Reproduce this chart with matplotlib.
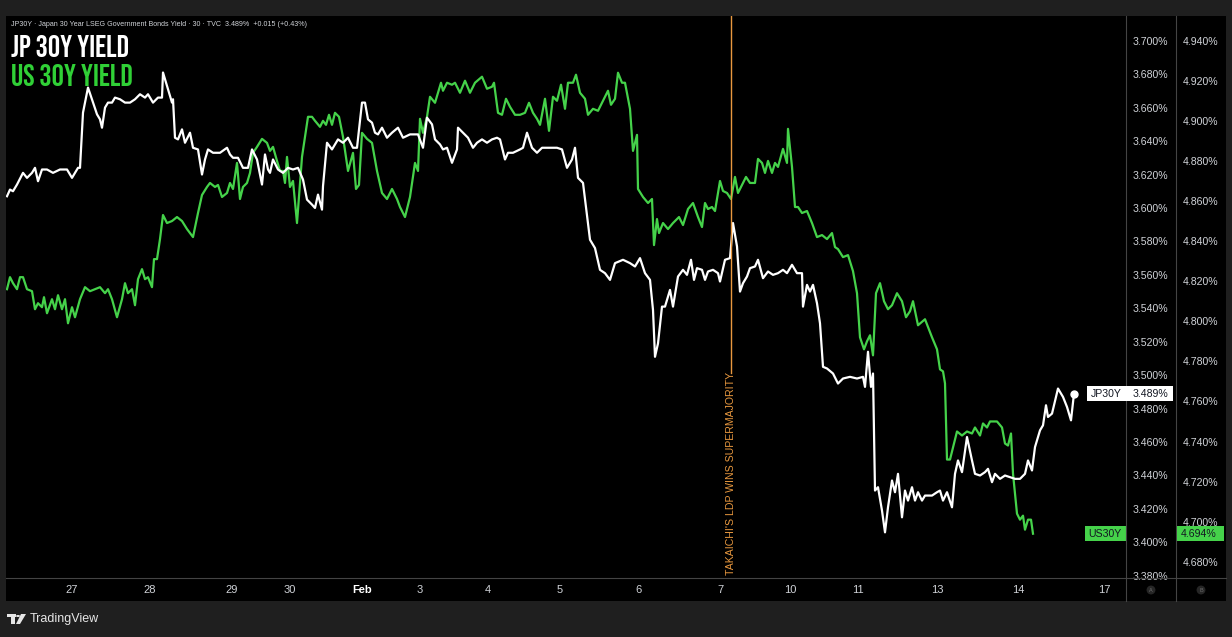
import matplotlib
matplotlib.use("Agg")
from matplotlib import pyplot as plt
from matplotlib import transforms as mtransforms
from matplotlib.lines import Line2D
from matplotlib.patches import Rectangle, Polygon, Circle

plt.rcParams['font.family'] = ['Liberation Sans', 'DejaVu Sans']

# ---------------- data (30 min bars, compressed session axis) ----------------
date_pos = [72, 150, 232, 290, 362, 420, 488, 560, 638, 720, 790, 858, 937, 1018, 1104]
date_labels = ['27', '28', '29', '30', 'Feb', '3', '4', '5', '6', '7', '10', '11', '13', '14', '17']

jp_ticks = [3.38, 3.40, 3.42, 3.44, 3.46, 3.48, 3.50, 3.52, 3.54, 3.56, 3.58,
            3.60, 3.62, 3.64, 3.66, 3.68, 3.70]
us_ticks = [4.68, 4.70, 4.72, 4.74, 4.76, 4.78, 4.80, 4.82, 4.84, 4.86, 4.88,
            4.90, 4.92, 4.94]

jp_pos = [7, 10, 13, 17, 23, 27, 32, 35, 38, 42,
          47, 53, 60, 67, 72, 78, 80, 83, 88, 93,
          97, 100, 102, 105, 108, 112, 115, 120, 125, 130,
          135, 140, 145, 148, 153, 158, 162, 163, 168, 172,
          173, 175, 178, 182, 185, 190, 193, 198, 202, 205,
          208, 213, 220, 227, 230, 233, 238, 243, 248, 252,
          257, 262, 265, 268, 270, 273, 278, 283, 288, 293,
          298, 303, 307, 312, 315, 318, 322, 323, 327, 332,
          338, 343, 348, 353, 357, 362, 365, 368, 372, 375,
          378, 382, 387, 392, 398, 403, 410, 418, 423, 427,
          432, 435, 440, 443, 447, 452, 457, 458, 463, 468,
          473, 477, 482, 487, 492, 497, 500, 505, 508, 513,
          520, 523, 527, 532, 537, 542, 547, 552, 557, 562,
          567, 572, 575, 578, 583, 590, 595, 600, 605, 610,
          615, 623, 630, 635, 640, 645, 650, 653, 655, 658,
          662, 665, 670, 673, 678, 683, 687, 691, 694, 697,
          702, 705, 708, 713, 718, 720, 725, 730, 733, 737,
          740, 743, 747, 750, 755, 758, 763, 768, 773, 778,
          783, 787, 792, 797, 802, 803, 807, 810, 813, 817,
          820, 823, 827, 833, 838, 843, 850, 857, 863, 865,
          868, 871, 873, 875, 878, 882, 885, 888, 892, 895,
          898, 902, 905, 908, 912, 915, 918, 922, 925, 932,
          937, 940, 943, 947, 952, 955, 958, 962, 967, 972,
          975, 980, 985, 988, 992, 995, 1000, 1005, 1010, 1015,
          1020, 1025, 1028, 1032, 1035, 1040, 1043, 1046, 1048, 1052,
          1058, 1063, 1067, 1071, 1074]

jp_yield = [3.607, 3.611, 3.610, 3.614, 3.621, 3.618, 3.621, 3.624, 3.616, 3.623,
            3.623, 3.621, 3.623, 3.623, 3.618, 3.624, 3.624, 3.657, 3.672, 3.663,
            3.656, 3.653, 3.648, 3.660, 3.663, 3.663, 3.666, 3.665, 3.663, 3.663,
            3.665, 3.668, 3.666, 3.668, 3.663, 3.666, 3.666, 3.681, 3.671, 3.663,
            3.665, 3.642, 3.641, 3.647, 3.639, 3.645, 3.636, 3.635, 3.620, 3.629,
            3.635, 3.633, 3.633, 3.636, 3.632, 3.630, 3.630, 3.624, 3.624, 3.635,
            3.629, 3.614, 3.632, 3.623, 3.621, 3.629, 3.623, 3.621, 3.624, 3.623,
            3.624, 3.617, 3.605, 3.602, 3.600, 3.608, 3.599, 3.613, 3.639, 3.635,
            3.641, 3.639, 3.642, 3.636, 3.636, 3.663, 3.663, 3.653, 3.651, 3.645,
            3.644, 3.648, 3.642, 3.645, 3.648, 3.642, 3.644, 3.644, 3.636, 3.654,
            3.650, 3.641, 3.638, 3.635, 3.636, 3.627, 3.635, 3.648, 3.645, 3.642,
            3.636, 3.639, 3.641, 3.639, 3.641, 3.642, 3.641, 3.629, 3.633, 3.633,
            3.635, 3.636, 3.645, 3.636, 3.633, 3.636, 3.636, 3.636, 3.636, 3.635,
            3.624, 3.629, 3.636, 3.618, 3.615, 3.581, 3.576, 3.563, 3.561, 3.557,
            3.567, 3.569, 3.567, 3.565, 3.570, 3.561, 3.557, 3.539, 3.511, 3.519,
            3.541, 3.541, 3.551, 3.541, 3.559, 3.563, 3.560, 3.569, 3.557, 3.564,
            3.563, 3.557, 3.562, 3.563, 3.561, 3.556, 3.569, 3.570, 3.591, 3.577,
            3.550, 3.555, 3.559, 3.564, 3.565, 3.569, 3.558, 3.562, 3.560, 3.561,
            3.563, 3.561, 3.566, 3.561, 3.561, 3.541, 3.554, 3.550, 3.554, 3.543,
            3.531, 3.505, 3.504, 3.501, 3.495, 3.498, 3.499, 3.498, 3.499, 3.493,
            3.514, 3.493, 3.501, 3.431, 3.433, 3.419, 3.406, 3.421, 3.437, 3.430,
            3.441, 3.415, 3.431, 3.425, 3.433, 3.425, 3.430, 3.425, 3.428, 3.428,
            3.430, 3.431, 3.425, 3.430, 3.421, 3.441, 3.449, 3.442, 3.463, 3.449,
            3.441, 3.440, 3.442, 3.444, 3.436, 3.441, 3.438, 3.440, 3.439, 3.438,
            3.438, 3.441, 3.449, 3.443, 3.457, 3.467, 3.470, 3.482, 3.475, 3.477,
            3.492, 3.487, 3.481, 3.473, 3.489]

us_pos = [7, 10, 13, 17, 20, 23, 27, 32, 35, 38,
          42, 44, 47, 52, 55, 58, 62, 65, 68, 72,
          75, 80, 85, 90, 95, 100, 105, 108, 112, 117,
          122, 125, 128, 132, 135, 138, 142, 145, 148, 152,
          154, 157, 160, 163, 167, 172, 177, 182, 187, 193,
          198, 202, 207, 210, 215, 218, 222, 227, 230, 233,
          237, 240, 243, 247, 250, 253, 257, 262, 267, 270,
          273, 277, 280, 283, 285, 287, 290, 293, 297, 302,
          305, 308, 312, 315, 320, 323, 326, 329, 332, 335,
          339, 343, 348, 353, 356, 359, 362, 367, 372, 377,
          382, 387, 392, 397, 400, 405, 410, 415, 418, 420,
          423, 427, 430, 435, 438, 441, 443, 447, 452, 455,
          460, 465, 470, 475, 482, 487, 492, 494, 498, 502,
          506, 510, 515, 520, 525, 529, 533, 537, 540, 545,
          549, 553, 557, 561, 565, 568, 573, 576, 580, 585,
          588, 593, 598, 603, 608, 611, 615, 618, 622, 625,
          630, 633, 637, 638, 643, 648, 652, 654, 657, 659,
          663, 668, 673, 679, 683, 688, 693, 698, 702, 705,
          708, 712, 715, 720, 723, 727, 731, 735, 738, 742,
          746, 750, 755, 758, 762, 765, 768, 772, 775, 778,
          783, 787, 788, 792, 795, 798, 802, 807, 812, 817,
          822, 827, 832, 835, 838, 843, 848, 853, 857, 860,
          864, 867, 870, 873, 876, 880, 884, 888, 892, 897,
          902, 906, 910, 913, 918, 925, 932, 937, 940, 943,
          945, 947, 950, 957, 962, 967, 972, 975, 980, 983,
          987, 990, 997, 1002, 1005, 1008, 1011, 1013, 1017, 1020,
          1023, 1025, 1028, 1031, 1033]

us_yield = [4.816, 4.822, 4.819, 4.816, 4.822, 4.822, 4.816, 4.815, 4.806, 4.809,
            4.807, 4.812, 4.804, 4.811, 4.806, 4.813, 4.806, 4.811, 4.799, 4.807,
            4.802, 4.811, 4.817, 4.815, 4.816, 4.817, 4.814, 4.816, 4.811, 4.802,
            4.811, 4.819, 4.814, 4.816, 4.808, 4.821, 4.826, 4.821, 4.822, 4.817,
            4.831, 4.831, 4.841, 4.853, 4.849, 4.850, 4.852, 4.850, 4.846, 4.842,
            4.854, 4.863, 4.867, 4.869, 4.867, 4.868, 4.862, 4.864, 4.869, 4.866,
            4.879, 4.861, 4.867, 4.869, 4.874, 4.884, 4.887, 4.891, 4.889, 4.885,
            4.887, 4.880, 4.875, 4.875, 4.869, 4.882, 4.867, 4.870, 4.849, 4.882,
            4.892, 4.902, 4.902, 4.900, 4.897, 4.900, 4.898, 4.903, 4.898, 4.904,
            4.902, 4.892, 4.875, 4.884, 4.866, 4.868, 4.894, 4.891, 4.889, 4.875,
            4.864, 4.861, 4.866, 4.861, 4.857, 4.852, 4.862, 4.879, 4.875, 4.901,
            4.894, 4.902, 4.912, 4.909, 4.914, 4.919, 4.915, 4.919, 4.918, 4.919,
            4.914, 4.920, 4.914, 4.919, 4.922, 4.916, 4.917, 4.919, 4.904, 4.903,
            4.911, 4.907, 4.903, 4.903, 4.904, 4.909, 4.904, 4.901, 4.898, 4.911,
            4.895, 4.912, 4.910, 4.918, 4.906, 4.919, 4.919, 4.923, 4.914, 4.911,
            4.903, 4.906, 4.905, 4.910, 4.915, 4.908, 4.911, 4.924, 4.919, 4.919,
            4.906, 4.885, 4.893, 4.866, 4.862, 4.859, 4.861, 4.838, 4.851, 4.844,
            4.849, 4.846, 4.849, 4.852, 4.848, 4.856, 4.859, 4.852, 4.847, 4.859,
            4.856, 4.857, 4.855, 4.870, 4.865, 4.864, 4.861, 4.872, 4.864, 4.868,
            4.872, 4.869, 4.869, 4.881, 4.879, 4.874, 4.880, 4.874, 4.879, 4.877,
            4.886, 4.879, 4.896, 4.877, 4.857, 4.857, 4.854, 4.855, 4.849, 4.842,
            4.843, 4.841, 4.844, 4.837, 4.836, 4.832, 4.833, 4.825, 4.814, 4.792,
            4.786, 4.790, 4.793, 4.783, 4.814, 4.819, 4.810, 4.806, 4.808, 4.814,
            4.810, 4.802, 4.805, 4.810, 4.798, 4.801, 4.792, 4.786, 4.776, 4.775,
            4.769, 4.731, 4.731, 4.745, 4.743, 4.745, 4.744, 4.747, 4.743, 4.749,
            4.747, 4.750, 4.750, 4.747, 4.739, 4.738, 4.744, 4.724, 4.704, 4.701,
            4.703, 4.696, 4.701, 4.701, 4.694]

event_pos = 731
event_text = "TAKAICHI'S LDP WINS SUPERMAJORITY"
header = "JP30Y · Japan 30 Year LSEG Government Bonds Yield · 30 · TVC  3.489%  +0.015 (+0.43%)"

# ---------------- style ----------------
W, H = 1232, 637
BG = "#1f1f1f"
GRID = "#444444"
TXT = "#d0d3d8"
GREEN = "#45d24a"
ORANGE = "#e8983f"


def fx(px):
    return px / W


def fy(py):
    return 1 - py / H


fig = plt.figure(figsize=(W / 100, H / 100), dpi=100, facecolor=BG)

# black chart panel incl. price scales and time strip
fig.patches.append(Rectangle((fx(6), fy(601)), fx(1226) - fx(6), fy(16) - fy(601),
                             transform=fig.transFigure, facecolor="black",
                             edgecolor="none", zorder=-5))

ax = fig.add_axes([fx(6), fy(578), fx(1126) - fx(6), fy(16) - fy(578)])
ax2 = ax.twinx()
ax.set_zorder(ax2.get_zorder() + 1)
ax.patch.set_visible(False)
ax2.patch.set_visible(False)

ax.plot(jp_pos, jp_yield, color="white", lw=1.6, solid_joinstyle="round")
ax.plot(jp_pos[-1], jp_yield[-1], "o", color="white", ms=5)
ax2.plot(us_pos, us_yield, color=GREEN, lw=1.6, solid_joinstyle="round")

ax.set_xlim(6, 1126)
ax.set_ylim(3.3787, 3.7148)
ax2.set_ylim(4.6719, 4.9523)

# price scales
ax.yaxis.tick_right()
ax.set_yticks(jp_ticks)
ax.set_yticklabels([f"{t:.3f}%" for t in jp_ticks])
ax.tick_params(axis="y", length=0, pad=5, labelcolor=TXT, labelsize=7.6)
ax2.set_yticks(us_ticks)
ax2.set_yticklabels([f"{t:.3f}%" for t in us_ticks])
ax2.tick_params(axis="y", length=0, pad=5, labelcolor=TXT, labelsize=7.6)

# time scale
ax.set_xticks(date_pos)
ax.set_xticklabels(date_labels)
ax.tick_params(axis="x", length=0, pad=5, labelcolor=TXT, labelsize=8)
for lab in ax.get_xticklabels():
    if lab.get_text() == "Feb":
        lab.set_fontweight("bold")
        lab.set_color("white")

for a in (ax, ax2):
    for s in ("top", "left", "bottom", "right"):
        a.spines[s].set_visible(False)
ax.spines["right"].set_visible(True)
ax.spines["right"].set_color(GRID)
ax.spines["bottom"].set_visible(True)
ax.spines["bottom"].set_color(GRID)
ax2.spines["right"].set_visible(True)
ax2.spines["right"].set_color(GRID)
ax2.spines["right"].set_position(("outward", 36))

# separators running through the time strip
fig.lines.append(Line2D([fx(1126), fx(1226)], [fy(578), fy(578)], color=GRID, lw=0.8,
                        transform=fig.transFigure))
for xp in (1126, 1176):
    fig.lines.append(Line2D([fx(xp), fx(xp)], [fy(578), fy(601)], color=GRID, lw=0.8,
                            transform=fig.transFigure))
for xp, ch in ((1151, "A"), (1201, "B")):
    fig.text(fx(xp), fy(590), ch, fontsize=4, color="#6a6a6a", ha="center", va="center",
             bbox=dict(boxstyle="circle,pad=0.35", fc="#262626", ec="none"))

# event marker
ax.axvline(event_pos, ymin=0.365, ymax=1, color=ORANGE, lw=1)
ev_tr = mtransforms.blended_transform_factory(ax.transData, ax.transAxes)
ax.text(event_pos, 0.006, event_text, transform=ev_tr, rotation=90, ha="center",
        va="bottom", color=ORANGE, fontsize=7.6)

# last value labels
jp_tr = mtransforms.blended_transform_factory(ax.transAxes, ax.transData)
us_tr = mtransforms.blended_transform_factory(ax2.transAxes, ax2.transData)
jp_last = jp_yield[-1]
us_last = us_yield[-1]
ax.add_patch(Rectangle((1081 / 1120, jp_last - 0.0043), 86 / 1120, 0.0086, transform=jp_tr,
                       facecolor="white", edgecolor="none", clip_on=False, zorder=5))
ax.text(1085 / 1120, jp_last, "JP30Y", transform=jp_tr, color="#131722", fontsize=7.6,
        va="center", ha="left", clip_on=False, zorder=6)
ax.text(1127 / 1120, jp_last, f"{jp_last:.3f}%", transform=jp_tr, color="#131722",
        fontsize=7.6, va="center", ha="left", clip_on=False, zorder=6)
ax2.add_patch(Rectangle((1079 / 1120, us_last - 0.0036), 41 / 1120, 0.0072, transform=us_tr,
                        facecolor=GREEN, edgecolor="none", clip_on=False, zorder=5))
ax2.add_patch(Rectangle((1171 / 1120, us_last - 0.0036), 47 / 1120, 0.0072, transform=us_tr,
                        facecolor=GREEN, edgecolor="none", clip_on=False, zorder=5))
ax2.text(1082 / 1120, us_last, "US30Y", transform=us_tr, color="#131722", fontsize=7.6,
         va="center", ha="left", clip_on=False, zorder=6)
ax2.text(1175 / 1120, us_last, f"{us_last:.3f}%", transform=us_tr, color="#131722",
         fontsize=7.6, va="center", ha="left", clip_on=False, zorder=6)

# header and titles
fig.text(fx(11), fy(25), header, fontsize=5.1, color=TXT, va="center", ha="left")
narrow = ["Bebas Neue", "Oswald", "DejaVu Sans"]
fig.text(fx(11), fy(57), "JP 30Y YIELD", fontsize=22, family=narrow,
         color="white", va="baseline", ha="left")
fig.text(fx(11), fy(86), "US 30Y YIELD", fontsize=22, family=narrow,
         color="#30d036", va="baseline", ha="left")

# footer logo
LOGO = "#e6e6e6"
fig.patches.append(Rectangle((fx(7), fy(617)), fx(9), fy(614) - fy(617), transform=fig.transFigure,
                             facecolor=LOGO, edgecolor="none"))
fig.patches.append(Rectangle((fx(11), fy(624)), fx(4), fy(617) - fy(624), transform=fig.transFigure,
                             facecolor=LOGO, edgecolor="none"))
fig.patches.append(Circle((fx(18), fy(616)), fx(2), transform=fig.transFigure,
                          facecolor=LOGO, edgecolor="none"))
fig.patches.append(Polygon([(fx(21), fy(614)), (fx(26), fy(614)), (fx(20), fy(624)), (fx(16), fy(624))],
                           closed=True, transform=fig.transFigure, facecolor=LOGO, edgecolor="none"))
fig.text(fx(30), fy(619), "TradingView", fontsize=9, color=LOGO, va="center", ha="left")

fig.savefig("out.png", dpi=100, facecolor=fig.get_facecolor())
